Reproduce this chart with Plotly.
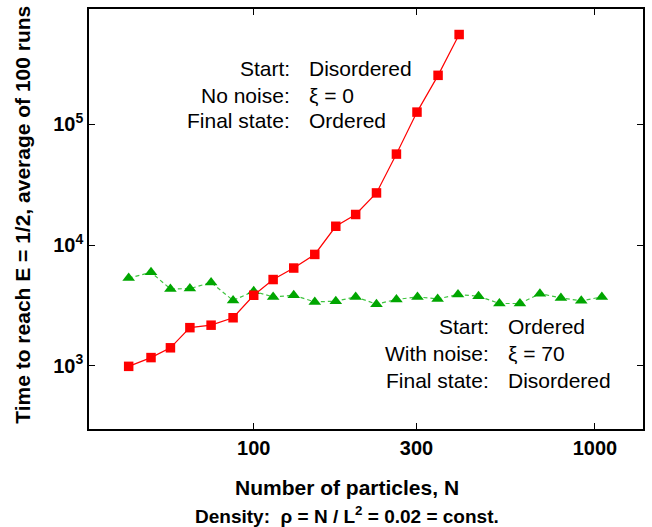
import plotly.graph_objects as go

# Data
red_N = [43, 50, 57, 65, 75, 87, 100, 114, 131, 151, 174, 199, 229, 262, 301, 347, 400]
red_T = [990, 1170, 1410, 2070, 2170, 2500, 3840, 5180, 6450, 8360, 14300, 17900,
         27000, 56600, 126000, 254000, 553000]

green_N = [43, 50, 57, 65, 75, 87, 100, 114, 131, 151, 174, 199, 229, 262, 302, 346,
           397, 456, 525, 603, 690, 795, 912, 1048]
green_T = [5330, 5940, 4330, 4360, 4890, 3480, 4140, 3720, 3840, 3380, 3430, 3720,
           3240, 3540, 3720, 3580, 3890, 3770, 3280, 3280, 3960, 3650, 3450, 3720]

x_tickvals = [100, 300, 1000]
x_ticktext = ["100", "300", "1000"]
y_tickvals = [1e3, 1e4, 1e5]
y_ticktext = ["10<sup>3</sup>", "10<sup>4</sup>", "10<sup>5</sup>"]

block1_labels = ["Start:", "No noise:", "Final state:"]
block1_values = ["Disordered", "ξ = 0", "Ordered"]
block2_labels = ["Start:", "With noise:", "Final state:"]
block2_values = ["Ordered", "ξ = 70", "Disordered"]

FONT = "Liberation Sans, Arial, sans-serif"

fig = go.Figure()
fig.add_trace(go.Scatter(
    x=green_N, y=green_T, mode="lines+markers",
    line=dict(color="#3fc43f", width=1.2, dash="4px,3px"),
    marker=dict(symbol="triangle-up", size=11, color="#00a600"),
    showlegend=False))
fig.add_trace(go.Scatter(
    x=red_N, y=red_T, mode="lines+markers",
    line=dict(color="#ff0000", width=1.2),
    marker=dict(symbol="square", size=9.5, color="#ff0000"),
    showlegend=False))

L, R, T, B = 89, 7, 7.5, 97.5
W, H = 652, 527
pw = W - L - R
ph = H - T - B

def px(xp):
    return (xp - L) / pw

def py(yp):
    return (H - B - yp) / ph

ann = []
for lab, val, yc in zip(block1_labels, block1_values, [67, 94, 120]):
    ann.append(dict(x=px(293), y=py(yc), text=lab, xanchor="right", yanchor="middle"))
    ann.append(dict(x=px(307.5), y=py(yc), text=val, xanchor="left", yanchor="middle"))
for lab, val, yc in zip(block2_labels, block2_values, [326.5, 354, 380.7]):
    ann.append(dict(x=px(492.7), y=py(yc), text=lab, xanchor="right", yanchor="middle"))
    ann.append(dict(x=px(507.5), y=py(yc), text=val, xanchor="left", yanchor="middle"))
for a in ann:
    a.update(xref="paper", yref="paper", showarrow=False,
             font=dict(family=FONT, size=21, color="#000000"))

ann.append(dict(x=px(348), y=py(488), xref="paper", yref="paper", showarrow=False,
                text="<b>Number of particles, N</b>", xanchor="center", yanchor="middle",
                font=dict(family=FONT, size=21, color="#000000")))
ann.append(dict(x=px(348), y=py(516), xref="paper", yref="paper", showarrow=False,
                text="<b>Density:  ρ = N / L<sup>2</sup> = 0.02 = const.</b>",
                xanchor="center", yanchor="middle",
                font=dict(family=FONT, size=19, color="#000000")))
ann.append(dict(x=px(22), y=py(214), xref="paper", yref="paper", showarrow=False,
                text="<b>Time to reach E = 1/2, average of 100 runs</b>", textangle=-90,
                xanchor="center", yanchor="middle",
                font=dict(family=FONT, size=21, color="#000000")))

fig.update_layout(
    width=W, height=H,
    margin=dict(l=L, r=R, t=T, b=B),
    plot_bgcolor="white", paper_bgcolor="white",
    annotations=ann,
    font=dict(family=FONT, color="#000000"),
)
fig.update_xaxes(
    type="log", range=[1.5172, 3.141],
    tickvals=x_tickvals, ticktext=x_ticktext,
    ticks="inside", ticklen=6, tickwidth=1, tickcolor="#000000",
    showline=True, linecolor="#000000", linewidth=1.5, mirror="ticks",
    showgrid=False, zeroline=False,
    tickfont=dict(family=FONT, size=20, color="#000000", weight="bold"),
)
fig.update_yaxes(
    type="log", range=[2.477, 5.954],
    tickvals=y_tickvals, ticktext=y_ticktext,
    ticks="inside", ticklen=6, tickwidth=1, tickcolor="#000000",
    showline=True, linecolor="#000000", linewidth=1.5, mirror="ticks",
    showgrid=False, zeroline=False,
    tickfont=dict(family=FONT, size=20, color="#000000", weight="bold"),
)

fig.write_html("out.html", config={"displayModeBar": False},
               post_script="document.body.style.margin='0';document.body.style.overflow='hidden';")
